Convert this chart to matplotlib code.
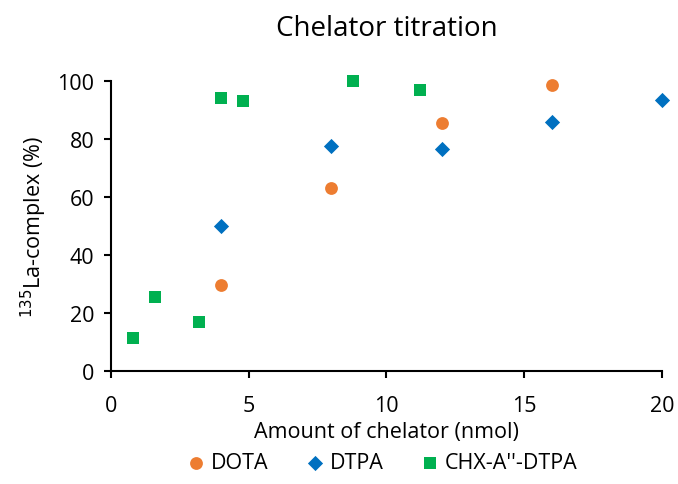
import matplotlib
matplotlib.use("Agg")
import matplotlib.pyplot as plt

# Data
dota_x = [4, 8, 12, 16]
dota_y = [29.5, 63, 85.5, 98.5]
dtpa_x = [4, 8, 12, 16, 20]
dtpa_y = [50, 77.5, 76.5, 86, 93.5]
chx_x = [0.8, 1.6, 3.2, 4, 4.8, 8.8, 11.2]
chx_y = [11.5, 25.5, 17, 94, 93, 100, 97]

x_ticks = [0, 5, 10, 15, 20]
y_ticks = [0, 20, 40, 60, 80, 100]

plt.rcParams['font.family'] = ['Open Sans', 'DejaVu Sans']

fig = plt.figure(figsize=(6.78, 4.85), dpi=100)
ax = fig.add_axes([0.1637, 0.2330, 0.8127, 0.5979])

ax.scatter(dota_x, dota_y, marker='o', s=85, color='#ED7D31', label='DOTA', zorder=5, linewidths=0, clip_on=False)
ax.scatter(dtpa_x, dtpa_y, marker='D', s=60, color='#0070C0', label='DTPA', zorder=5, linewidths=0, clip_on=False)
ax.scatter(chx_x, chx_y, marker='s', s=85, color='#00B050', label="CHX-A''-DTPA", zorder=5, linewidths=0, clip_on=False)

ax.set_xlim(0, 20)
ax.set_ylim(0, 100)
ax.set_xticks(x_ticks)
ax.set_yticks(y_ticks)
ax.spines['top'].set_visible(False)
ax.spines['right'].set_visible(False)
for s in ['left', 'bottom']:
    ax.spines[s].set_linewidth(1.5)
    ax.spines[s].set_color('black')
ax.tick_params(direction='out', length=5, width=1.5, labelsize=15.5)
ax.tick_params(axis='x', pad=12)
ax.tick_params(axis='y', pad=7)

ax.set_xlabel('Amount of chelator (nmol)', fontsize=15.5, labelpad=4)
ax.set_ylabel('$^{135}$La-complex (%)', fontsize=15.5, labelpad=6)
ax.set_title('Chelator titration', fontsize=20, pad=33)

leg = fig.legend(loc='lower center', bbox_to_anchor=(0.565, -0.018), ncol=3, frameon=False,
                 fontsize=15.5, handlelength=0.7, handletextpad=0.35, columnspacing=1.8)

fig.savefig('out.png', dpi=100)
